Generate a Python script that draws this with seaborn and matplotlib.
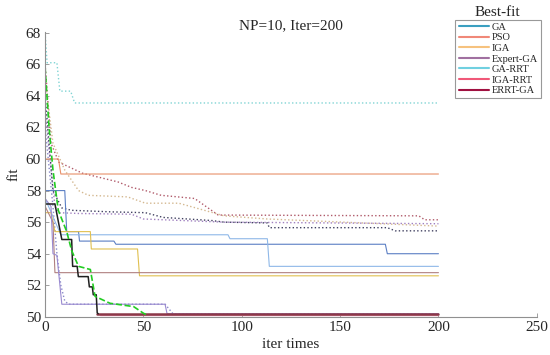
import numpy as np
import pandas as pd
import seaborn as sns
import matplotlib.pyplot as plt
from matplotlib.lines import Line2D

# 最优适应度曲线 (实线)
ga_x = [0, 10, 11, 17, 17.5, 35, 36, 173, 174, 200]
ga_y = [58.0, 58.0, 55.4, 55.4, 54.8, 54.8, 54.6, 54.6, 54.0, 54.0]
pso_x = [0, 6.8, 8, 200]
pso_y = [60.0, 60.0, 59.05, 59.05]
iga_x = [0, 3, 5, 23, 23.5, 47, 48, 200]
iga_y = [56.6, 56.6, 55.4, 55.4, 54.3, 54.3, 52.6, 52.6]
lblue_x = [0, 8, 93, 94, 113, 114, 200]
lblue_y = [57.5, 55.2, 55.2, 54.95, 54.95, 53.2, 53.2]
mauve_x = [0, 4, 5, 200]
mauve_y = [57.0, 56.0, 52.8, 52.8]
purple_x = [0, 3, 4, 6, 8.5, 61, 62, 200]
purple_y = [57.5, 57.0, 54.0, 53.9, 50.8, 50.8, 50.2, 50.2]
black_x = [0, 5, 8.5, 13.5, 14, 16.3, 16.9, 21.9, 22.5, 24, 24.5, 26, 26.5, 27]
black_y = [57.15, 57.15, 54.9, 54.9, 53.2, 53.2, 52.55, 52.55, 51.9, 51.9, 51.4, 51.4, 50.25, 50.2]
errt_x = [26.5, 200]
errt_y = [50.2, 50.2]
pink_x = [28, 200]
pink_y = [50.1, 50.1]
green_x = [0, 2, 4, 6.7, 11, 13.5, 17, 23, 25.4, 33, 45, 50, 52]
green_y = [65.8, 62.0, 59.3, 56.75, 55.4, 54.2, 53.2, 53.0, 51.3, 50.86, 50.65, 50.23, 50.1]

# 平均适应度曲线 (点线)
cyan_x = [0, 1, 6, 7.5, 13, 15, 200]
cyan_y = [68.0, 66.1, 66.1, 64.3, 64.3, 63.55, 63.55]
red_x = [0, 3, 7, 19, 37, 44, 51, 59, 76, 88, 190, 193, 200]
red_y = [66.0, 61.0, 59.8, 59.1, 58.55, 58.2, 58.0, 57.7, 57.5, 56.45, 56.4, 56.15, 56.15]
tan_x = [0, 4, 10, 17, 22, 42, 51, 68, 81, 91, 113, 200]
tan_y = [65.0, 61.0, 59.3, 58.0, 57.7, 57.6, 57.2, 57.2, 56.75, 56.4, 56.2, 55.75]
navy_x = [0, 4, 8.5, 13.5, 34, 51, 60, 85, 91, 113, 114, 174, 178, 200]
navy_y = [64.0, 58.0, 56.9, 56.75, 56.65, 56.6, 56.3, 56.1, 56.0, 55.95, 55.65, 55.65, 55.45, 55.45]
pdot_x = [0, 5, 7, 17, 44, 50, 91, 200]
pdot_y = [63.0, 57.0, 56.6, 56.55, 56.5, 56.2, 56.0, 55.9]
ldot_x = [0, 4, 6, 8, 10, 12, 61, 65, 200]
ldot_y = [62.0, 57.0, 54.0, 52.0, 51.0, 50.8, 50.8, 50.2, 50.2]

x_ticks = [0, 50, 100, 150, 200, 250]
y_ticks = [50, 52, 54, 56, 58, 60, 62, 64, 66, 68]

legend_names = ['GA', 'PSO', 'IGA', 'Expert-GA', 'GA-RRT', 'IGA-RRT', 'ERRT-GA']
legend_colors = ['#3a9fc0', '#f08878', '#f6c27e', '#a070a0', '#70d0e0', '#f05878', '#a01040']

sns.set_style('white')
plt.rcParams['font.family'] = ['Liberation Serif', 'DejaVu Serif']

fig = plt.figure(figsize=(5.5, 3.55), dpi=100)
ax = fig.add_axes([0.082, 0.107, 0.894, 0.803])


def draw(x, y, color, ls='-', lw=0.8):
    sns.lineplot(x=x, y=y, ax=ax, color=color, linestyle=ls, linewidth=lw,
                 estimator=None, sort=False, legend=False)


# 点线
draw(cyan_x, cyan_y, '#80d4d4', ':', 1.0)
draw(red_x, red_y, '#b05a6a', ':', 1.0)
draw(tan_x, tan_y, '#d4b890', ':', 1.0)
draw(pdot_x, pdot_y, '#a080c0', ':', 1.0)
draw(navy_x, navy_y, '#404060', ':', 1.0)
draw(ldot_x, ldot_y, '#8888c8', ':', 1.0)

# 实线
draw(pink_x, pink_y, '#f0a0b8', '-', 1.0)
draw(pso_x, pso_y, '#e8906a')
draw(ga_x, ga_y, '#5b7fc4')
draw(lblue_x, lblue_y, '#8fb8e8')
draw(iga_x, iga_y, '#e0c050')
draw(mauve_x, mauve_y, '#b08080')
draw(purple_x, purple_y, '#9a8ad0')
draw(errt_x, errt_y, '#8b3848', '-', 1.8)
draw(black_x, black_y, '#202020', '-', 1.1)
draw(green_x, green_y, '#22cc22', '--', 1.2)

ax.set_xticks(x_ticks)
ax.set_xticklabels([str(v) for v in x_ticks])
ax.set_yticks(y_ticks)
ax.set_yticklabels([str(v) for v in y_ticks])
ax.set_xlim(0, 250)
ax.set_ylim(49.99, 68.05)
for s in ['top', 'right']:
    ax.spines[s].set_visible(False)
for s in ['left', 'bottom']:
    ax.spines[s].set_color('#909090')
    ax.spines[s].set_linewidth(0.8)
ax.tick_params(direction='in', length=3, width=0.6, color='#909090',
               labelsize=11, pad=3, left=True, bottom=True)
ax.set_xlabel('iter times', fontsize=11, labelpad=3)
ax.set_ylabel('fit', fontsize=11, labelpad=4)
ax.set_title('NP=10, Iter=200', fontsize=11, pad=2)

handles = [Line2D([0], [0], color=c, lw=1.5) for c in legend_colors]
leg = fig.legend(handles, legend_names, loc='upper left', bbox_to_anchor=(0.828, 0.945),
                 fontsize=7.5, frameon=True, fancybox=False, handlelength=2.9,
                 handletextpad=0.3, labelspacing=0.12, borderpad=0.3, borderaxespad=0)
leg.get_frame().set_edgecolor('#808080')
leg.get_frame().set_linewidth(0.8)
fig.text(0.904, 0.965, 'Best-fit', ha='center', va='center', fontsize=11)

fig.savefig('out.png', dpi=100)
